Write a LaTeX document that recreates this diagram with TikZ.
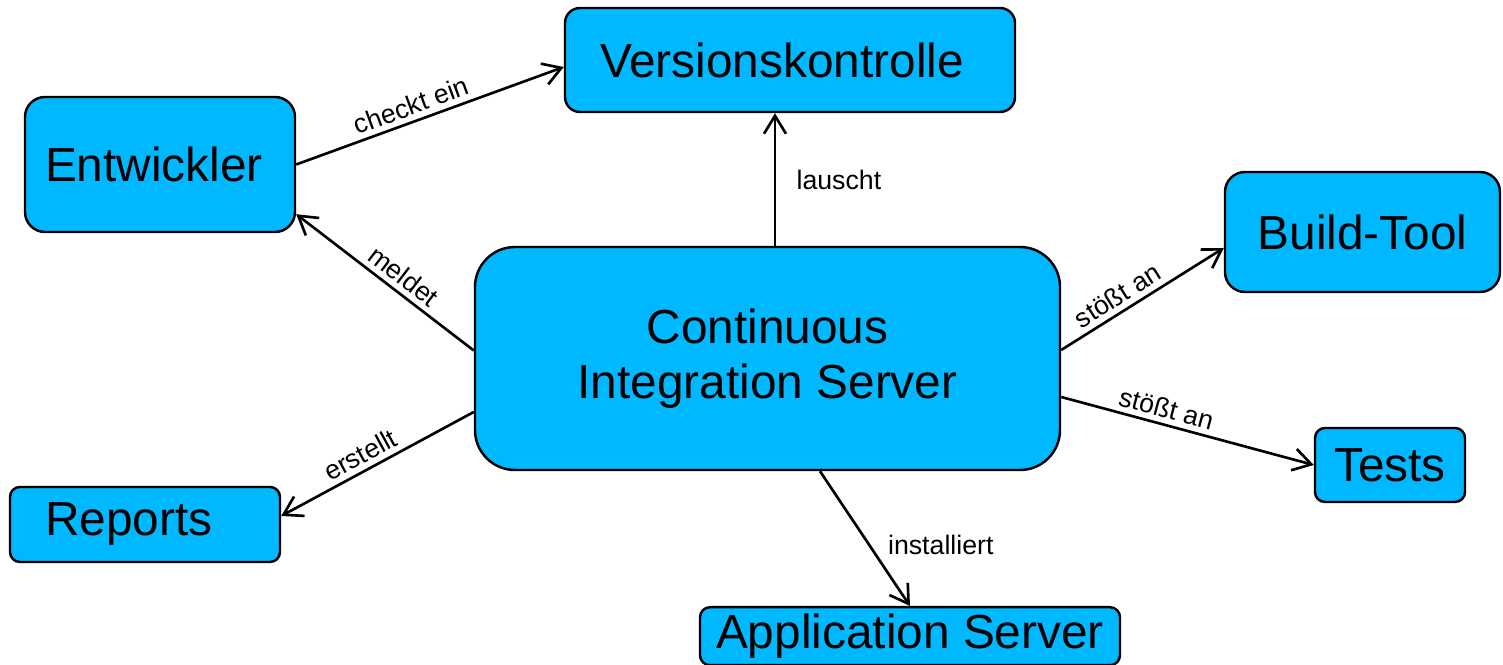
\documentclass[tikz,border=0pt]{standalone}
\usepackage{fontspec}
\setmainfont{Liberation Sans}
\usetikzlibrary{arrows.meta, positioning}
\definecolor{boxfill}{HTML}{00B8FF}
\definecolor{boxedge}{HTML}{000000}

\begin{document}
\begin{tikzpicture}[
  box/.style={rectangle, draw=boxedge, fill=boxfill, line width=0.7pt,
              align=center, font=\fontsize{13.6}{15.6}\selectfont},
  conn/.style={draw=black, line width=0.75pt, -{Straight Barb[length=1.8mm, width=2.2mm]}},
  lab/.style={font=\fontsize{7.6}{9}\selectfont, inner sep=1.5pt},
]
\useasboundingbox (0,0) rectangle (15.03,-6.65);
% tools around the server
\node[box, minimum width=4.50cm, minimum height=1.04cm, rounded corners=0.15cm,
      text width=3.8cm, align=left] (vk) at ( 7.900,-0.600) {Versionskontrolle};
\node[box, minimum width=2.70cm, minimum height=1.35cm, rounded corners=0.20cm,
      text width=2.3cm, align=left] (ent) at ( 1.600,-1.645) {Entwickler};
\node[box, minimum width=2.75cm, minimum height=1.20cm, rounded corners=0.20cm] (bt)    at (13.625,-2.320) {Build-Tool};
\node[box, minimum width=5.85cm, minimum height=2.23cm, rounded corners=0.40cm] (ci)    at ( 7.675,-3.585) {Continuous\\Integration Server};
\node[box, minimum width=1.50cm, minimum height=0.74cm, rounded corners=0.10cm] (tests) at (13.900,-4.650) {Tests};
\node[box, minimum width=2.70cm, minimum height=0.75cm, rounded corners=0.10cm,
      text width=2.0cm, align=left] (rep) at ( 1.450,-5.245) {Reports};
\node[box, minimum width=4.20cm, minimum height=0.58cm, rounded corners=0.10cm,
      inner ysep=0pt, anchor=north] (app) at ( 9.100,-6.060) {Application Server};
% relations
\draw[conn] (ent.east) -- node[lab, sloped, above, pos=0.45] {checkt ein} ([yshift=-0.07cm]vk.west);
\draw[conn] ([yshift=0.08cm]ci.west) -- node[lab, sloped, above, pos=0.45] {meldet} ([yshift=0.19cm]ent.south east);
\draw[conn] ([xshift=0.075cm]ci.north) -- node[lab, right=0.15cm] {lauscht} ([xshift=0.075cm]ci.north |- vk.south);
\draw[conn] ([yshift=0.085cm]ci.east) -- node[lab, sloped, above, pos=0.4] {stößt an} ([yshift=-0.16cm]bt.west);
\draw[conn] ([yshift=-0.385cm]ci.east) -- node[lab, sloped, above, pos=0.4] {stößt an} (tests.west);
\draw[conn] ([yshift=-0.535cm]ci.west) -- node[lab, sloped, above, pos=0.55] {erstellt} ([yshift=0.085cm]rep.east);
\draw[conn] ([xshift=0.525cm]ci.south) -- node[lab, right=0.12cm, pos=0.55] {installiert} (app.north);
\end{tikzpicture}
\end{document}
